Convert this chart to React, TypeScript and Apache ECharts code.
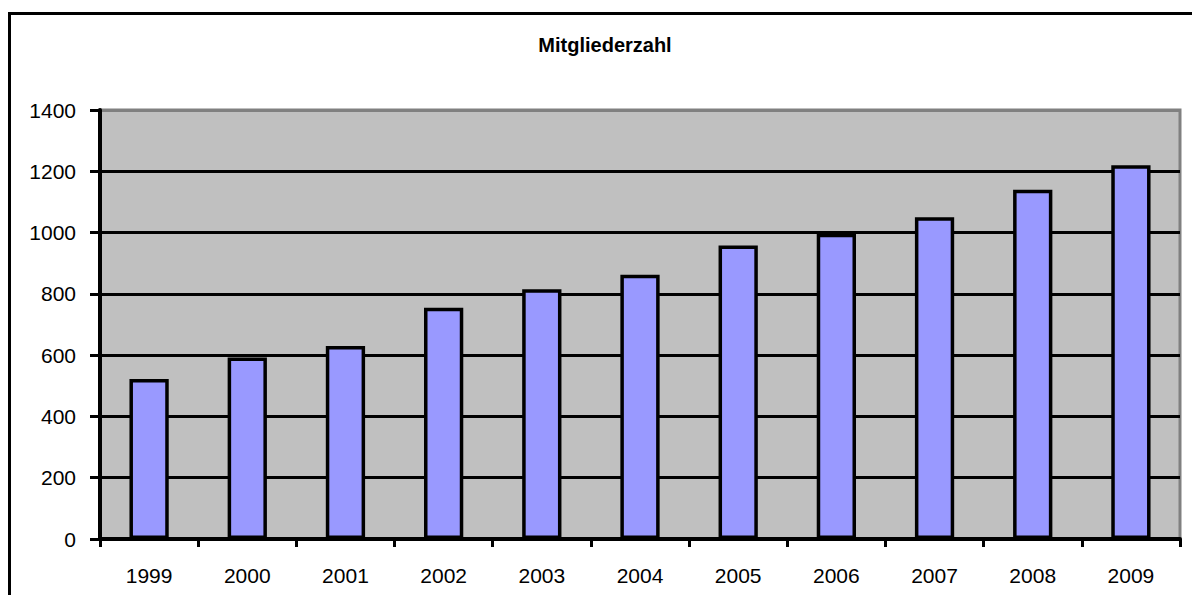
import React, { useEffect, useRef } from "react";
import * as echarts from "echarts";

const years = ["1999", "2000", "2001", "2002", "2003", "2004", "2005", "2006", "2007", "2008", "2009"];
const members = [522, 592, 630, 755, 815, 862, 958, 996, 1050, 1140, 1220];
const titleText = "Mitgliederzahl";

export default function App() {
  const ref = useRef<HTMLDivElement>(null);
  useEffect(() => {
    if (!ref.current) return;
    const chart = echarts.init(ref.current, null, { renderer: "svg" });
    const font = "'Liberation Sans', Arial, sans-serif";
    chart.setOption({
      animation: false,
      backgroundColor: "#ffffff",
      title: {
        text: titleText,
        left: 600,
        top: 30,
        textAlign: "center",
        textStyle: { fontFamily: font, fontSize: 20, fontWeight: "bold", color: "#000" },
      },
      graphic: [
        {
          type: "rect",
          shape: { x: 9.5, y: 13.5, width: 1200, height: 600 },
          style: { fill: "none", stroke: "#000", lineWidth: 3 },
          silent: true,
        },
      ],
      grid: {
        left: 100,
        top: 110,
        right: 12,
        bottom: 56,
        show: true,
        backgroundColor: "#C0C0C0",
        borderColor: "#808080",
        borderWidth: 3,
      },
      xAxis: {
        type: "category",
        data: years,
        axisLine: { show: true, lineStyle: { color: "#000", width: 4 } },
        axisTick: { show: true, alignWithLabel: false, length: 8, lineStyle: { color: "#000", width: 3 } },
        axisLabel: { color: "#000", fontFamily: font, fontSize: 21, margin: 26 },
        splitLine: { show: false },
      },
      yAxis: {
        type: "value",
        min: 0,
        max: 1400,
        interval: 200,
        axisLine: { show: true, lineStyle: { color: "#000", width: 4 } },
        axisTick: { show: true, length: 10, lineStyle: { color: "#000", width: 3 } },
        axisLabel: {
          color: "#000",
          fontFamily: font,
          fontSize: 21,
          margin: 24,
          formatter: (v: number) => String(v),
        },
        splitLine: {
          show: true,
          lineStyle: {
            color: ["#000", "#000", "#000", "#000", "#000", "#000", "#000", "#808080"],
            width: 3,
          },
        },
      },
      series: [
        {
          type: "bar",
          data: members,
          barWidth: "40%",
          itemStyle: { color: "#9999FF", borderColor: "#000", borderWidth: 3.5 },
        },
      ],
    });
    return () => chart.dispose();
  }, []);
  return (
    <div
      ref={ref}
      style={{ position: "absolute", left: 0, top: 0, width: 1192, height: 595 }}
    />
  );
}
